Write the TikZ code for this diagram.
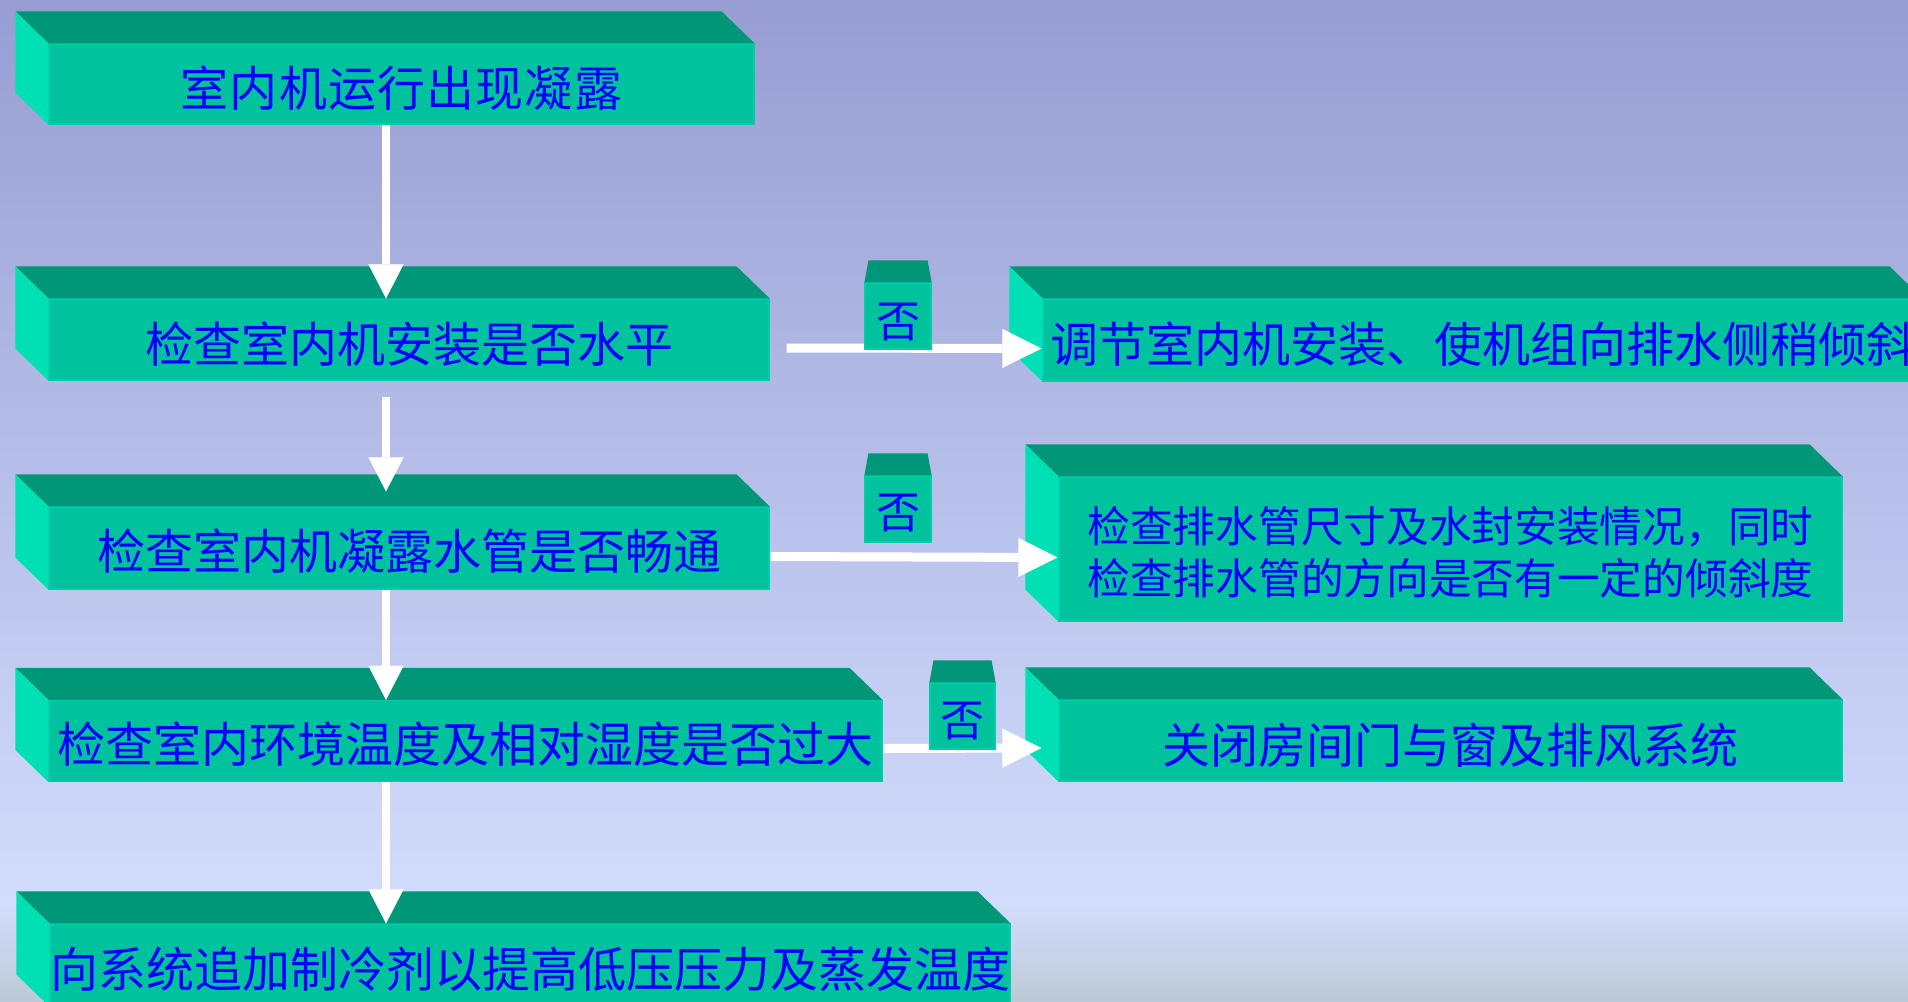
\documentclass[tikz,border=0pt]{standalone}
\usepackage{fontspec}
\newfontfamily\cjk{Noto Sans CJK SC}
\newfontfamily\cjkwide[LetterSpace=2.4]{Noto Sans CJK SC}
\usetikzlibrary{arrows.meta,calc}
\definecolor{bgtop}{RGB}{151,157,210}
\definecolor{bgmid}{RGB}{210,221,253}
\definecolor{bgbot}{RGB}{188,202,214}
\definecolor{topc}{RGB}{0,150,120}
\definecolor{frontc}{RGB}{0,194,156}
\definecolor{sidec}{RGB}{0,224,180}
\definecolor{edgec}{RGB}{0,206,168}
\definecolor{txtc}{RGB}{0,0,255}
\newcommand\lowtxt[2][4pt]{\raisebox{-#1}[\height][\depth]{#2}}
\newcommand\boxfaces[1]{%
  \fill[topc] (#1.north west) -- ++(-33,-32) -- ($(#1.north east)+(-33,-32)$) -- (#1.north east) -- cycle;
  \fill[sidec] (#1.north west) -- ++(-33,-32) -- ($(#1.south west)+(-33,-32)$) -- (#1.south west) -- cycle;}
\newcommand\tabfaces[1]{%
  \fill[topc] (#1.north west) -- ++(4,-22) -- ($(#1.north east)+(-4,-22)$) -- (#1.north east) -- cycle;}
\tikzset{
  frontbox/.style={fill=frontc, draw=edgec, line width=1.2pt, inner sep=0pt, text=txtc,
    font=\cjk\fontsize{48}{52}\selectfont},
  tabbox/.style={fill=frontc, draw=edgec, line width=1.2pt, inner sep=0pt, text=txtc,
    minimum height=66pt, font=\cjk\fontsize{44}{48}\selectfont},
  varrow/.style={draw=white, line width=8pt, -{Triangle[length=34pt,width=35pt,line width=0.1pt]}},
  harrow/.style={draw=white, line width=9pt, -{Triangle[length=39pt,width=39pt,line width=0.1pt]}},
}
\begin{document}
\begin{tikzpicture}[x=1pt,y=-1pt]
\clip (0,0) rectangle (1908,1001);
% background
\shade[top color=bgtop, bottom color=bgmid] (0,0) rectangle (1908,904);
\shade[top color=bgmid, bottom color=bgbot] (0,903) rectangle (1908,1001);

% main boxes
\node[frontbox, minimum width=705pt, minimum height=80pt] (b1) at (401.5,84)
  {\lowtxt{\cjkwide\fontsize{48}{52}\selectfont 室内机运行出现凝露}};
\node[frontbox, minimum width=720pt, minimum height=81pt] (b2) at (409,339.5)
  {\lowtxt[4.5pt]{检查室内机安装是否水平}};
\node[frontbox, minimum width=720pt, minimum height=82pt] (b3) at (409,548)
  {\lowtxt[3pt]{检查室内机凝露水管是否畅通}};
\node[frontbox, minimum width=833pt, minimum height=81pt] (b4) at (465.5,741)
  {\lowtxt[3.5pt]{检查室内环境温度及相对湿度是否过大}};
\node[frontbox, minimum width=960pt, minimum height=82pt] (b5) at (530,965)
  {\lowtxt[4pt]{向系统追加制冷剂以提高低压压力及蒸发温度}};
\node[frontbox, minimum width=879pt, minimum height=82pt] (r1) at (1482.5,340)
  {\lowtxt{调节室内机安装、使机组向排水侧稍倾斜}};
\node[frontbox, minimum width=783pt, minimum height=144pt, align=left,
  font=\cjk\fontsize{42.7}{52}\selectfont] (r2) at (1450.5,549)
  {\lowtxt[9pt]{\begin{tabular}{@{}l@{}}检查排水管尺寸及水封安装情况，同时\\[-0.5pt]检查排水管的方向是否有一定的倾斜度\end{tabular}}};
\node[frontbox, minimum width=783pt, minimum height=81pt] (r3) at (1450.5,740.5)
  {\lowtxt[4.5pt]{关闭房间门与窗及排风系统}};

\boxfaces{b1}
\boxfaces{b2}
\boxfaces{b3}
\boxfaces{b4}
\boxfaces{b5}
\boxfaces{r1}
\boxfaces{r2}
\boxfaces{r3}

% vertical arrows
\coordinate (vx) at (386,0);
\draw[varrow] (b1.south -| vx) -- (b2.north -| vx);
\draw[varrow, shorten <=16pt, shorten >=15pt] (b2.south -| vx) -- (b3.north -| vx);
\draw[varrow] (b3.south -| vx) -- (b4.north -| vx);
\draw[varrow] (b4.south -| vx) -- (b5.north -| vx);

% horizontal arrows
\draw[harrow] ($(b2.east)+(17,8.5)$) -- ($(r1.west)+(-1,8.5)$);
\draw[harrow] ($(b3.east)+(1,8.5)$) -- ($(r2.west)+(-1,8.5)$);
\draw[harrow] ($(b4.east)+(1,7.5)$) -- ($(r3.west)+(-17,7.5)$);

% "no" tabs
\node[tabbox, minimum width=66pt] (z1) at (898,316) {\lowtxt[6pt]{否}};
\node[tabbox, minimum width=66pt] (z2) at (898,509) {\lowtxt[4pt]{否}};
\node[tabbox, minimum width=65pt] (z3) at (962.5,716) {\lowtxt[5pt]{否}};
\tabfaces{z1}
\tabfaces{z2}
\tabfaces{z3}
\end{tikzpicture}
\end{document}
